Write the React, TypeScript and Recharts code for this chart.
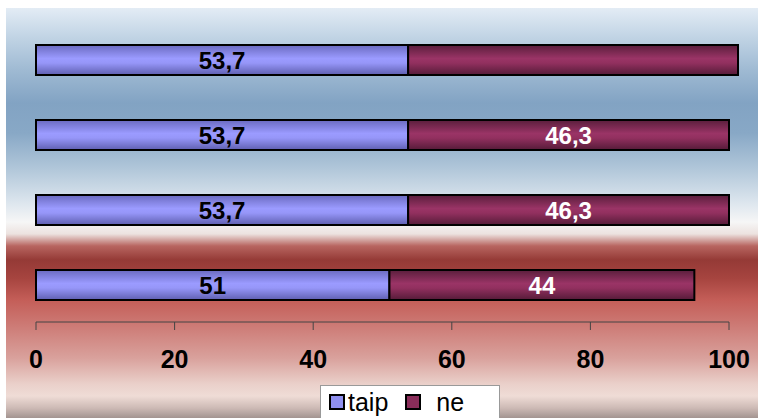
import { BarChart, Bar, XAxis, YAxis, LabelList } from "recharts";

const rows = ["r1", "r2", "r3", "r4"];
const taip = [53.7, 53.7, 53.7, 51];
const ne = [47.6, 46.3, 46.3, 44];
const neShown = [false, true, true, true];
const xTicks = [0, 20, 40, 60, 80, 100];

// range bars: [start, end] so the top row may run past 100
const data = rows.map((name, i) => ({
  name,
  taip: [0, taip[i]],
  ne: [taip[i], taip[i] + ne[i]],
}));

const fmt = (v: number) => String(v).replace(".", ",");

const bg =
  "linear-gradient(to bottom, #e3ecf5 0px, #c0d3e4 30px, #9fbad3 62px, #82a3c3 95px, #88a8c6 125px, #b0c6d9 160px, #dde6ee 195px, #f6f6f6 214px, #ece2df 226px, #b86560 238px, #953a36 252px, #a6443f 270px, #c45e58 292px, #cd7b76 318px, #d9a19c 350px, #ead0ca 376px, #efdcd6 388px, #cdbab5 400px, #a39490 410px)";

const makeLabel = (vals: number[], color: string, shown?: boolean[]) =>
  (props: any) => {
    const { x, y, width, height, index } = props;
    if (shown && !shown[index]) return null;
    return (
      <text
        x={x + width / 2}
        y={y + height / 2}
        dy="0.36em"
        textAnchor="middle"
        fill={color}
        fontSize={24}
        fontWeight="bold"
      >
        {fmt(vals[index])}
      </text>
    );
  };

export default function App() {
  return (
    <div
      style={{
        position: "absolute",
        left: 0,
        top: 0,
        width: 758,
        height: 418,
        background: "#ffffff",
        fontFamily: "'Liberation Sans', Arial, sans-serif",
        overflow: "hidden",
      }}
    >
      <style>{`.recharts-wrapper svg g[clip-path], .recharts-wrapper svg g[clip-path] *{clip-path:none !important}`}</style>
      <div
        style={{
          position: "absolute",
          left: 6,
          top: 8,
          right: 0,
          bottom: 0,
          background: bg,
        }}
      />
      <div style={{ position: "absolute", left: 0, top: 0 }}>
        <BarChart
          width={758}
          height={418}
          data={data}
          layout="vertical"
          margin={{ top: 22, right: 29, left: 36, bottom: 56 }}
          barGap={-30}
        >
          <defs>
            <linearGradient id="gBlue" x1="0" y1="0" x2="0" y2="1">
              <stop offset="0%" stopColor="#6a6ac0" />
              <stop offset="45%" stopColor="#9b9bff" />
              <stop offset="60%" stopColor="#9696f8" />
              <stop offset="100%" stopColor="#5f5fb0" />
            </linearGradient>
            <linearGradient id="gRed" x1="0" y1="0" x2="0" y2="1">
              <stop offset="0%" stopColor="#5a1e3c" />
              <stop offset="45%" stopColor="#9a3466" />
              <stop offset="60%" stopColor="#92305f" />
              <stop offset="100%" stopColor="#551b38" />
            </linearGradient>
          </defs>
          <XAxis
            type="number"
            domain={[0, 100]}
            ticks={xTicks}
            allowDataOverflow
            height={40}
            tickSize={8}
            tickMargin={20}
            axisLine={{ stroke: "#444" }}
            tickLine={{ stroke: "#444" }}
            tick={{ fill: "#000", fontSize: 25, fontWeight: "bold" }}
          />
          <YAxis
            type="category"
            dataKey="name"
            width={0}
            tick={false}
            tickLine={false}
            axisLine={{ stroke: "#444" }}
          />
          <Bar
            dataKey="taip"
            fill="url(#gBlue)"
            stroke="#000"
            strokeWidth={2}
            barSize={30}
            isAnimationActive={false}
          >
            <LabelList dataKey="taip" content={makeLabel(taip, "#000")} />
          </Bar>
          <Bar
            dataKey="ne"
            fill="url(#gRed)"
            stroke="#000"
            strokeWidth={2}
            barSize={30}
            isAnimationActive={false}
          >
            <LabelList dataKey="ne" content={makeLabel(ne, "#fff", neShown)} />
          </Bar>
        </BarChart>
      </div>
      <div
        style={{
          position: "absolute",
          left: 320,
          top: 385,
          width: 180,
          height: 40,
          background: "#ffffff",
          border: "1px solid #999",
          boxSizing: "border-box",
          display: "flex",
          alignItems: "center",
          paddingLeft: 8,
          paddingBottom: 6,
          fontSize: 25,
          color: "#000",
        }}
      >
        <span
          style={{
            display: "inline-block",
            width: 12,
            height: 12,
            border: "2px solid #000",
            background: "#9090f0",
            marginRight: 3,
          }}
        />
        <span>taip</span>
        <span
          style={{
            display: "inline-block",
            width: 12,
            height: 12,
            border: "2px solid #000",
            background: "#8a2d5a",
            marginLeft: 17,
            marginRight: 15,
          }}
        />
        <span>ne</span>
      </div>
    </div>
  );
}
